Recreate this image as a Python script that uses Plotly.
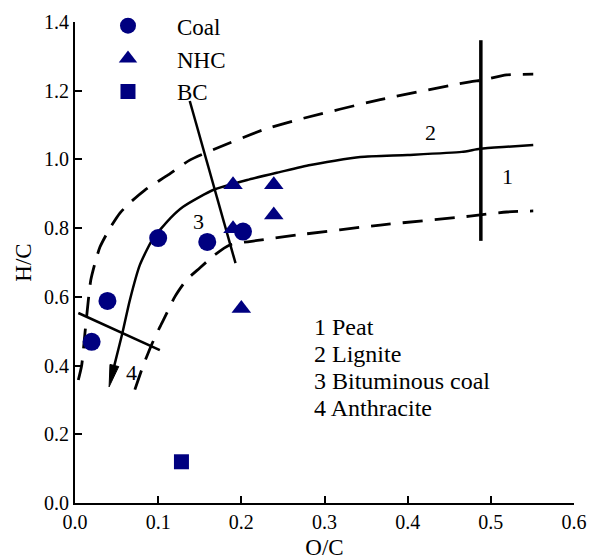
import math
import plotly.graph_objects as go

# ---------------- data ----------------
coal_oc = [0.020, 0.039, 0.100, 0.159, 0.202]
coal_hc = [0.469, 0.588, 0.771, 0.760, 0.790]
nhc_oc = [0.190, 0.190, 0.239, 0.239, 0.200]
nhc_hc = [0.926, 0.798, 0.926, 0.838, 0.566]
bc_oc = [0.128]
bc_hc = [0.120]

# coalification band (solid centre line, ends in arrow at first point)
solid_oc = [0.041, 0.048, 0.057, 0.066, 0.078, 0.094, 0.104, 0.115, 0.130,
            0.150, 0.166, 0.207, 0.246, 0.283, 0.343, 0.400, 0.465, 0.487, 0.519, 0.551]
solid_hc = [0.338, 0.407, 0.495, 0.591, 0.693, 0.771, 0.800, 0.830, 0.862,
            0.891, 0.911, 0.940, 0.963, 0.984, 1.007, 1.013, 1.022, 1.031, 1.037, 1.042]
upper_oc = [0.004, 0.008, 0.012, 0.016, 0.019, 0.024, 0.030, 0.042, 0.054, 0.067, 0.084,
            0.112, 0.138, 0.174, 0.226, 0.267, 0.367, 0.475, 0.490, 0.519, 0.551]
upper_hc = [0.358, 0.400, 0.495, 0.590, 0.649, 0.698, 0.745, 0.800, 0.844, 0.876, 0.911,
            0.955, 0.998, 1.036, 1.086, 1.115, 1.174, 1.226, 1.231, 1.246, 1.248]
lower_oc = [0.072, 0.082, 0.092, 0.102, 0.108, 0.120, 0.134, 0.150, 0.168, 0.186,
            0.222, 0.267, 0.367, 0.475, 0.519, 0.551]
lower_hc = [0.330, 0.400, 0.460, 0.512, 0.541, 0.600, 0.649, 0.684, 0.722, 0.751,
            0.765, 0.780, 0.809, 0.835, 0.847, 0.850]

# rank boundaries
peat_oc = [0.488, 0.488]
peat_hc = [0.763, 1.347]
bitum_oc = [0.138, 0.193]
bitum_hc = [1.170, 0.698]
anth_oc = [0.004, 0.102]
anth_hc = [0.553, 0.445]

region_labels = ["1", "2", "3", "4"]
region_oc = [0.520, 0.428, 0.148, 0.0685]
region_hc = [0.949, 1.077, 0.818, 0.381]

key_lines = ["1 Peat", "2 Lignite", "3 Bituminous coal", "4 Anthracite"]

x_ticks = [0.0, 0.1, 0.2, 0.3, 0.4, 0.5, 0.6]
y_ticks = [0.0, 0.2, 0.4, 0.6, 0.8, 1.0, 1.2, 1.4]

# ---------------- layout constants ----------------
W, H = 592, 560
ML, MR, MT, MB = 75, 18, 22, 57
XR = [0, 0.6]
YR = [0, 1.4]
FONT = "Liberation Serif"
NAVY = "#000080"

px_x = (W - ML - MR) / (XR[1] - XR[0])
px_y = (H - MT - MB) / (YR[1] - YR[0])

# arrow head at the end of the solid line (computed from the line's end)
tip_x, tip_y = solid_oc[0], solid_hc[0]
dxp = (solid_oc[0] - solid_oc[1]) * px_x
dyp = (solid_hc[0] - solid_hc[1]) * px_y
L = math.hypot(dxp, dyp)
ux, uy = dxp / L, dyp / L
head_len, head_half = 22, 4.5
bx, by = -ux * head_len, -uy * head_len
head_x = [tip_x,
          tip_x + (bx - uy * head_half) / px_x,
          tip_x + (bx + uy * head_half) / px_x,
          tip_x]
head_y = [tip_y,
          tip_y + (by + ux * head_half) / px_y,
          tip_y + (by - ux * head_half) / px_y,
          tip_y]
base_x = tip_x + bx * 0.7 / px_x
base_y = tip_y + by * 0.7 / px_y

fig = go.Figure()

line_style = dict(color="black", width=2.5)
dash_style = dict(color="black", width=2.8, dash="20px,12px", shape="spline", smoothing=0.6)

fig.add_trace(go.Scatter(x=upper_oc, y=upper_hc, mode="lines", line=dash_style,
                         showlegend=False, hoverinfo="skip"))
fig.add_trace(go.Scatter(x=lower_oc, y=lower_hc, mode="lines", line=dash_style,
                         showlegend=False, hoverinfo="skip"))
fig.add_trace(go.Scatter(x=[base_x] + solid_oc[1:], y=[base_y] + solid_hc[1:], mode="lines",
                         line=dict(color="black", width=2.5, shape="spline", smoothing=0.6),
                         showlegend=False, hoverinfo="skip"))
fig.add_trace(go.Scatter(x=head_x, y=head_y, mode="lines", fill="toself", fillcolor="black",
                         line=dict(color="black", width=1), showlegend=False, hoverinfo="skip"))
fig.add_trace(go.Scatter(x=peat_oc, y=peat_hc, mode="lines", line=dict(color="black", width=3.5),
                         showlegend=False, hoverinfo="skip"))
fig.add_trace(go.Scatter(x=bitum_oc, y=bitum_hc, mode="lines", line=line_style,
                         showlegend=False, hoverinfo="skip"))
fig.add_trace(go.Scatter(x=anth_oc, y=anth_hc, mode="lines", line=line_style,
                         showlegend=False, hoverinfo="skip"))

fig.add_trace(go.Scatter(x=coal_oc, y=coal_hc, mode="markers", name="Coal",
                         marker=dict(symbol="circle", size=18, color=NAVY)))
fig.add_trace(go.Scatter(x=nhc_oc, y=nhc_hc, mode="markers", name="NHC",
                         marker=dict(symbol="triangle-up", size=17, color=NAVY)))
fig.add_trace(go.Scatter(x=bc_oc, y=bc_hc, mode="markers", name="BC",
                         marker=dict(symbol="square", size=15, color=NAVY)))

for t, x, y in zip(region_labels, region_oc, region_hc):
    fig.add_annotation(x=x, y=y, text=t, showarrow=False,
                       font=dict(family=FONT, size=22, color="black"))

for i, t in enumerate(key_lines):
    fig.add_annotation(xref="paper", yref="paper", x=0.475, y=0.365,
                       xanchor="left", yanchor="middle", yshift=-27 * i,
                       text=t, showarrow=False,
                       font=dict(family=FONT, size=24, color="black"))

axis_common = dict(showline=True, linecolor="black", linewidth=2, ticks="inside",
                   ticklen=7, tickwidth=2, tickcolor="black", showgrid=False,
                   zeroline=False, mirror=False, automargin=False,
                   tickfont=dict(family=FONT, size=20, color="black"))

fig.update_xaxes(range=XR, tickvals=x_ticks, ticktext=[f"{v:.1f}" for v in x_ticks],
                 title=dict(text="O/C", font=dict(family=FONT, size=23, color="black"), standoff=8),
                 **axis_common)
fig.update_yaxes(range=YR, tickvals=y_ticks, ticktext=[f"{v:.1f}" for v in y_ticks],
                 title=dict(text="H/C", font=dict(family=FONT, size=23, color="black"), standoff=6),
                 **axis_common)

fig.update_layout(
    width=W, height=H,
    margin=dict(l=ML, r=MR, t=MT, b=MB, autoexpand=False),
    plot_bgcolor="white", paper_bgcolor="white",
    font=dict(family=FONT, color="black"),
    showlegend=True,
    legend=dict(x=0.008, y=1.037, xanchor="left", yanchor="top",
                itemwidth=88, tracegroupgap=0, bgcolor="rgba(0,0,0,0)",
                font=dict(family=FONT, size=23, color="black")),
)

fig.write_html("out.html")
